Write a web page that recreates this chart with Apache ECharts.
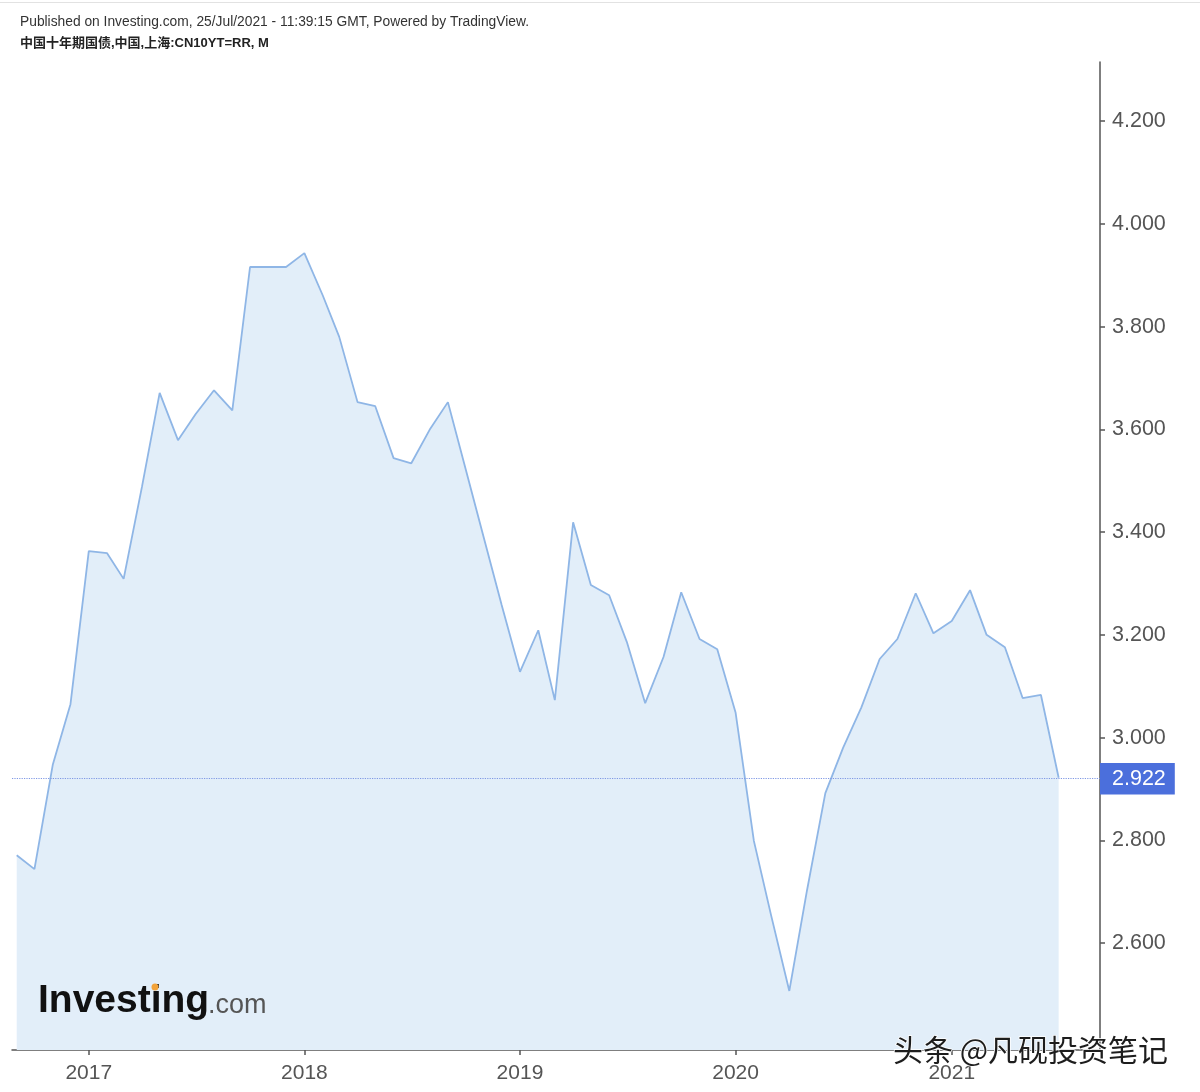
<!DOCTYPE html>
<html>
<head>
<meta charset="utf-8">
<script src="https://cdn.jsdelivr.net/npm/echarts@6/dist/echarts.min.js"></script>
<style>
html,body{margin:0;padding:0;background:#fff;}
#chart{width:1200px;height:1092px;}
</style>
</head>
<body>
<div id="chart"></div>
<script>
// Monthly closing yield, China 10Y government bond (CN10YT=RR)
const months = [
  '2016-09','2016-10','2016-11','2016-12',
  '2017-01','2017-02','2017-03','2017-04','2017-05','2017-06','2017-07','2017-08','2017-09','2017-10','2017-11','2017-12',
  '2018-01','2018-02','2018-03','2018-04','2018-05','2018-06','2018-07','2018-08','2018-09','2018-10','2018-11','2018-12',
  '2019-01','2019-02','2019-03','2019-04','2019-05','2019-06','2019-07','2019-08','2019-09','2019-10','2019-11','2019-12',
  '2020-01','2020-02','2020-03','2020-04','2020-05','2020-06','2020-07','2020-08','2020-09','2020-10','2020-11','2020-12',
  '2021-01','2021-02','2021-03','2021-04','2021-05','2021-06','2021-07'
];
const yields = [
  2.771, 2.744, 2.947, 3.065,
  3.363, 3.359, 3.309, 3.488, 3.671, 3.579, 3.630, 3.676, 3.637, 3.916, 3.916, 3.916,
  3.943, 3.861, 3.780, 3.653, 3.645, 3.544, 3.534, 3.599, 3.653, 3.523, 3.388, 3.258,
  3.128, 3.209, 3.073, 3.419, 3.297, 3.277, 3.186, 3.067, 3.157, 3.283, 3.192, 3.172,
  3.049, 2.799, 2.655, 2.507, 2.703, 2.892, 2.980, 3.059, 3.153, 3.192, 3.281, 3.203,
  3.227, 3.287, 3.200, 3.176, 3.077, 3.083, 2.922
];
const lastPrice = 2.922;
const yTicks = [2.6, 2.8, 3.0, 3.2, 3.4, 3.6, 3.8, 4.0, 4.2];
const xTickYears = [2017, 2018, 2019, 2020, 2021];

function monthStart(m) {
  const p = m.split('-');
  return Date.UTC(+p[0], +p[1] - 1, 1);
}
const seriesData = months.map((m, i) => [monthStart(m), yields[i]]);
const xTickValues = xTickYears.map(y => Date.UTC(y, 0, 1));

const chart = echarts.init(document.getElementById('chart'));
const FONT = '"Liberation Sans", Arial, "Noto Sans CJK SC", sans-serif';

chart.setOption({
  animation: false,
  backgroundColor: '#fff',
  grid: { left: 12, right: 100, top: 62, bottom: 42 },
  xAxis: {
    type: 'value',
    min: Date.UTC(2016, 7, 24),
    max: Date.UTC(2021, 8, 9),
    axisLine: { show: true, lineStyle: { color: '#555', width: 1.5 } },
    axisTick: { show: true, length: 5, customValues: xTickValues, lineStyle: { color: '#555', width: 1.5 } },
    axisLabel: {
      customValues: xTickValues,
      formatter: v => String(new Date(v).getUTCFullYear()),
      color: '#555', fontSize: 21, fontFamily: FONT, margin: 13
    },
    splitLine: { show: false }
  },
  yAxis: {
    type: 'value',
    position: 'right',
    min: 2.392,
    max: 4.315,
    axisLine: { show: true, lineStyle: { color: '#555', width: 1.5 } },
    axisTick: { show: true, length: 5, customValues: yTicks, lineStyle: { color: '#555', width: 1.5 } },
    axisLabel: {
      customValues: yTicks,
      formatter: v => v.toFixed(3),
      color: '#555', fontSize: 21.5, fontFamily: FONT, margin: 12
    },
    splitLine: { show: false }
  },
  series: [{
    type: 'line',
    data: seriesData,
    showSymbol: false,
    symbol: 'none',
    lineStyle: { color: '#8fb6e6', width: 1.8 },
    areaStyle: { color: '#e2eef9', opacity: 1, origin: 'start' },
    markLine: {
      silent: true,
      symbol: 'none',
      lineStyle: { type: 'dotted', color: '#7f98e4', width: 1.2 },
      label: {
        show: true,
        position: 'end',
        distance: 0,
        formatter: () => lastPrice.toFixed(3),
        color: '#fff',
        fontSize: 21.5,
        fontFamily: FONT,
        backgroundColor: '#4b6fdc',
        padding: [5, 9, 5, 12]
      },
      data: [{ yAxis: lastPrice }]
    }
  }],
  graphic: [
    { type: 'rect', shape: { x: 0, y: 2, width: 1200, height: 1 }, style: { fill: '#e2e2e2' } },
    { type: 'text', left: 20, top: 15, style: { text: 'Published on Investing.com, 25/Jul/2021 - 11:39:15 GMT, Powered by TradingView.', fill: '#333', font: '13.8px ' + FONT } },
    { type: 'text', left: 20, top: 37, style: { text: '中国十年期国债,中国,上海:CN10YT=RR, M', fill: '#222', font: 'bold 13px ' + FONT } },
    { type: 'text', x: 38, y: 1021, style: { text: 'Investing', fill: '#111', font: 'bold 39px ' + FONT, verticalAlign: 'bottom' }, z: 10 },
    { type: 'text', x: 208, y: 1019, style: { text: '.com', fill: '#555', font: '27px ' + FONT, verticalAlign: 'bottom' }, z: 10 },
    { type: 'circle', shape: { cx: 155, cy: 987, r: 3.5 }, style: { fill: '#f2a33a' }, z: 11 },
    { type: 'text', x: 893, y: 1050, style: { text: '头条 @凡砚投资笔记', fill: '#1d1d1d', stroke: '#ffffff', lineWidth: 1.5, font: '30px "Noto Sans CJK SC", sans-serif', verticalAlign: 'middle' }, z: 20 }
  ]
});
</script>
</body>
</html>
